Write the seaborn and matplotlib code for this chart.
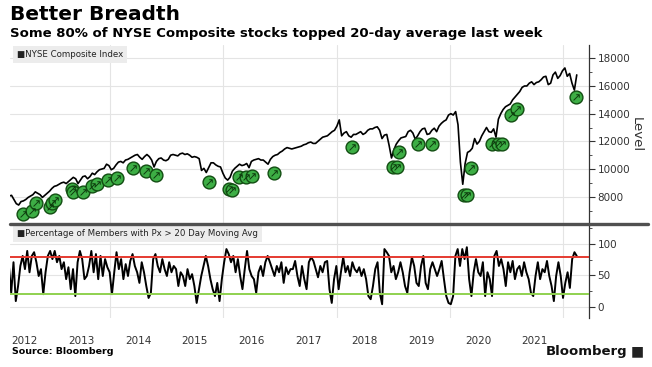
import matplotlib
matplotlib.use('Agg')
import matplotlib.pyplot as plt
from matplotlib.lines import Line2D
from matplotlib.ticker import MultipleLocator
import seaborn as sns
import pandas as pd

# NYSE Composite Index, roughly two readings per month (Mar 2012 - Mar 2022)
nyse_level = [
    8100, 8200, 8050, 8100, 7800, 7500, 7400, 7650, 7700, 7800, 7950, 8050, 8150, 8350, 8250, 8150, 7950, 8100, 8250, 8400,
    8600, 8750, 8800, 8900, 9000, 9050, 8950, 9100, 9250, 9400, 9300, 8950, 9200, 9450, 9500, 9300, 9450, 9700, 9600, 9800, 9950, 10000, 10050, 10350,
    10250, 9950, 10050, 10300, 10500, 10550, 10450, 10650, 10700, 10800, 10900, 11000, 11050, 10850, 10700, 10900, 11050, 10900, 10650, 10150, 10550, 10750, 10800, 10650,
    10600, 10700, 11000, 11050, 11000, 10950, 11100, 11150, 11050, 11100, 11000, 10850, 10900, 10850, 10750, 9900, 10050, 9750, 10100, 10450, 10450, 10300, 10200, 10150,
    9700, 9350, 9200, 9400, 9850, 10050, 10200, 10350, 10250, 10300, 10400, 10100, 10550, 10650, 10700, 10750, 10650, 10650, 10500, 10350, 10700, 10900, 11000, 11050,
    11200, 11300, 11450, 11550, 11500, 11450, 11500, 11550, 11600, 11650, 11750, 11800, 11900, 11950, 11850, 11850, 12000, 12150, 12300, 12350, 12400, 12550, 12700, 12800,
    13100, 13550, 12400, 12600, 12700, 12400, 12300, 12500, 12500, 12600, 12700, 12500, 12600, 12800, 12900, 12900, 13000, 13050, 12800, 12200, 12450, 12500, 11700, 10800,
    11400, 11800, 12050, 12250, 12300, 12350, 12700, 12800, 12600, 12150, 12400, 12700, 12900, 12950, 12500, 12550, 12800, 12950, 12700, 13100, 13300, 13450, 13550, 13900,
    14000, 13900, 14150, 13200, 10500, 8900, 10400, 11200, 11300, 11500, 12200, 11800, 12000, 12400, 12700, 13000, 12700, 12650, 12900, 12300, 13600, 14000, 14300, 14500,
    14600, 14700, 15000, 15200, 15400, 15600, 15900, 16000, 16000, 16200, 16300, 16100, 16250, 16300, 16450, 16650, 16700, 16100, 16200, 16800, 17000, 16550, 16750, 17100,
    17300, 16700, 16900, 16200, 15700, 16800,
]

# % of members with price above 20-day moving average
breadth_pct = [
    65, 22, 71, 9, 33, 65, 81, 60, 89, 55, 81, 87, 71, 49, 60, 20, 55, 81, 89, 76, 89, 71, 81, 60, 71, 44, 63, 28, 60, 17,
    71, 89, 76, 44, 49, 65, 89, 55, 84, 44, 81, 49, 76, 63, 55, 20, 55, 87, 60, 76, 44, 68, 49, 73, 84, 65, 55, 38, 71, 55,
    33, 14, 22, 76, 84, 65, 55, 76, 60, 49, 71, 55, 65, 60, 33, 55, 49, 33, 60, 44, 52, 33, 6, 28, 49, 65, 81, 65, 44, 28,
    17, 38, 9, 44, 71, 92, 84, 71, 81, 55, 76, 49, 28, 60, 89, 60, 49, 44, 22, 55, 65, 49, 71, 81, 71, 60, 49, 65, 55, 71,
    38, 63, 52, 60,
    60, 73, 49, 33, 65, 44, 28, 71, 79, 73, 60, 47, 65, 55, 71, 73, 28, 6, 44, 65, 28, 55, 79, 55, 65, 49, 71, 60, 55, 63,
    49, 60, 44, 17, 12, 33, 60, 71, 22, 4, 92, 87, 81, 55, 65, 44, 55, 71, 55, 33, 22, 55, 79, 65, 38, 33, 65, 81, 38, 28,
    60, 71, 60, 49, 60, 73, 44, 17, 6, 4, 17, 81, 92, 65, 92, 76, 95, 44, 17, 55, 76, 55, 49, 71, 17, 55, 44, 17, 81, 89,
    65, 76, 60, 33, 71, 55, 73, 44, 60, 65, 49, 71, 55, 44, 22, 17, 49, 71, 44, 60, 55, 73, 49, 33, 9, 49, 71, 49, 14, 38,
    55, 30, 76, 87, 81,
]

# buy-signal badges drawn under the index
signal_dates = [
    '2012-06-20', '2012-08-13', '2012-09-08', '2012-12-09', '2012-12-20', '2013-01-11', '2013-04-28', '2013-05-05',
    '2013-07-12', '2013-09-05', '2013-10-11', '2013-12-21', '2014-02-17', '2014-05-27', '2014-08-19', '2014-10-24',
    '2015-10-03', '2016-02-07', '2016-02-26', '2016-04-11', '2016-05-24', '2016-07-06', '2016-11-23', '2018-04-12',
    '2018-12-29', '2019-01-24', '2019-02-08', '2019-06-08', '2019-09-06', '2020-04-02', '2020-04-19', '2020-05-17',
    '2020-09-28', '2020-11-05', '2020-12-01', '2021-01-30', '2021-03-08', '2022-03-23',
]
signal_levels = [
    6750, 6990, 7520, 7280, 7520, 7760, 8560, 8360,
    8360, 8790, 8920, 9210, 9330, 10050, 9880, 9560,
    9080, 8580, 8480, 9440, 9440, 9520, 9730, 11570,
    10170, 10170, 11250, 11800, 11800, 8120, 8120, 10050,
    11780, 11780, 11780, 13900, 14310, 15180,
]

upper_band = 80
lower_band = 20
year_labels = [str(y) for y in range(2012, 2022)]

nyse = pd.DataFrame({'date': pd.date_range('2012-02-20', '2022-03-30', periods=len(nyse_level)),
                     'level': nyse_level})
breadth = pd.DataFrame({'date': pd.date_range('2012-03-20', '2022-03-30', periods=len(breadth_pct)),
                        'pct': breadth_pct})
signals = pd.DataFrame({'date': pd.to_datetime(signal_dates), 'level': signal_levels})

sns.set_theme(style='white')
plt.rcParams['font.family'] = ['DejaVu Sans']

W, H = 652, 367
fig = plt.figure(figsize=(W / 100, H / 100), dpi=100)
ax1 = fig.add_axes([10 / W, 1 - 224 / H, 579 / W, 179 / H])
ax2 = fig.add_axes([10 / W, 1 - 318 / H, 579 / W, 94 / H], sharex=ax1)

grid_kw = dict(color='#e4e4e4', lw=0.8)
tick_color = '#333333'

# top panel
sns.lineplot(data=nyse, x='date', y='level', ax=ax1, color='black', lw=1.2)
sns.scatterplot(data=signals, x='date', y='level', ax=ax1, s=85, color='#3dae45',
                edgecolor='#124d12', linewidth=1.0, zorder=4)
sns.scatterplot(data=signals, x='date', y='level', ax=ax1, s=22, marker=r'$\nearrow$',
                color='#0d3b0d', linewidth=0, zorder=5)
ax1.set_ylim(6030, 18960)
ax1.yaxis.set_major_locator(MultipleLocator(2000))
ax1.yaxis.set_minor_locator(MultipleLocator(1000))

# bottom panel
sns.lineplot(data=breadth, x='date', y='pct', ax=ax2, color='black', lw=1.4)
ax2.axhline(upper_band, color='#e53a30', lw=1.4, zorder=3)
ax2.axhline(lower_band, color='#8fd14f', lw=1.4, zorder=3)
ax2.set_ylim(-18, 132)
ax2.yaxis.set_major_locator(MultipleLocator(50))
ax2.yaxis.set_minor_locator(MultipleLocator(25))

for ax in (ax1, ax2):
    ax.set_xlabel('')
    ax.set_ylabel('')
    ax.yaxis.tick_right()
    for side in ('left', 'top', 'bottom'):
        ax.spines[side].set_visible(False)
    ax.spines['right'].set_color(tick_color)
    ax.spines['right'].set_linewidth(0.9)
    ax.tick_params(axis='y', which='major', direction='out', length=4, width=0.8,
                   color=tick_color, labelcolor=tick_color, labelsize=7.5, pad=2)
    ax.tick_params(axis='y', which='minor', direction='out', length=2, width=0.6, color=tick_color)
    ax.set_xticks(pd.to_datetime([f'{y}-01-01' for y in range(2014, 2023, 2)]))
    ax.grid(axis='both', which='major', **grid_kw)
    ax.set_axisbelow(True)

ax1.set_xlim(pd.Timestamp('2012-03-27'), pd.Timestamp('2022-06-17'))
ax1.tick_params(axis='x', which='both', length=0, labelbottom=False)
ax2.set_xticks(pd.to_datetime([f'{y}-07-01' for y in year_labels]), minor=True)
ax2.set_xticklabels(year_labels, minor=True)
ax2.tick_params(axis='x', which='major', length=0, labelbottom=False)
ax2.tick_params(axis='x', which='minor', length=0, labelsize=7.5, labelcolor=tick_color, pad=13)

# legend-like captions
box = dict(boxstyle='square,pad=0.45', facecolor='#ececec', edgecolor='none')
ax1.text(0.012, 0.972, '\u25a0NYSE Composite Index', transform=ax1.transAxes, fontsize=6.2,
         va='top', ha='left', color='#222222', bbox=box, zorder=6)
ax2.text(0.012, 0.945, '\u25a0Percentage of Members with Px > 20 Day Moving Avg', transform=ax2.transAxes,
         fontsize=6.2, va='top', ha='left', color='#222222', bbox=box, zorder=6)

# panel separator
fig.add_artist(Line2D([10 / W, 648 / W], [1 - 224 / H, 1 - 224 / H], color='#505050', lw=2.4))

fig.text(636 / W, 1 - 135 / H, 'Level', fontsize=9.5, rotation=270, va='center', ha='center', color=tick_color)
fig.text(10 / W, 1 - 15 / H, 'Better Breadth', fontsize=14.5, fontweight='bold', va='center', color='black')
fig.text(10 / W, 1 - 33 / H, 'Some 80% of NYSE Composite stocks topped 20-day average last week',
         fontsize=9.5, fontweight='bold', va='center', color='black')
fig.text(12 / W, 1 - 352 / H, 'Source: Bloomberg', fontsize=6.8, fontweight='bold', va='center', color='black')
fig.text(627 / W, 1 - 351 / H, 'Bloomberg', fontsize=9.5, fontweight='bold', va='center', ha='right', color='#111111')
fig.text(637 / W, 1 - 351 / H, '\u25a0', fontsize=10, va='center', ha='center', color='#222222')

fig.savefig('out.png', dpi=100)
